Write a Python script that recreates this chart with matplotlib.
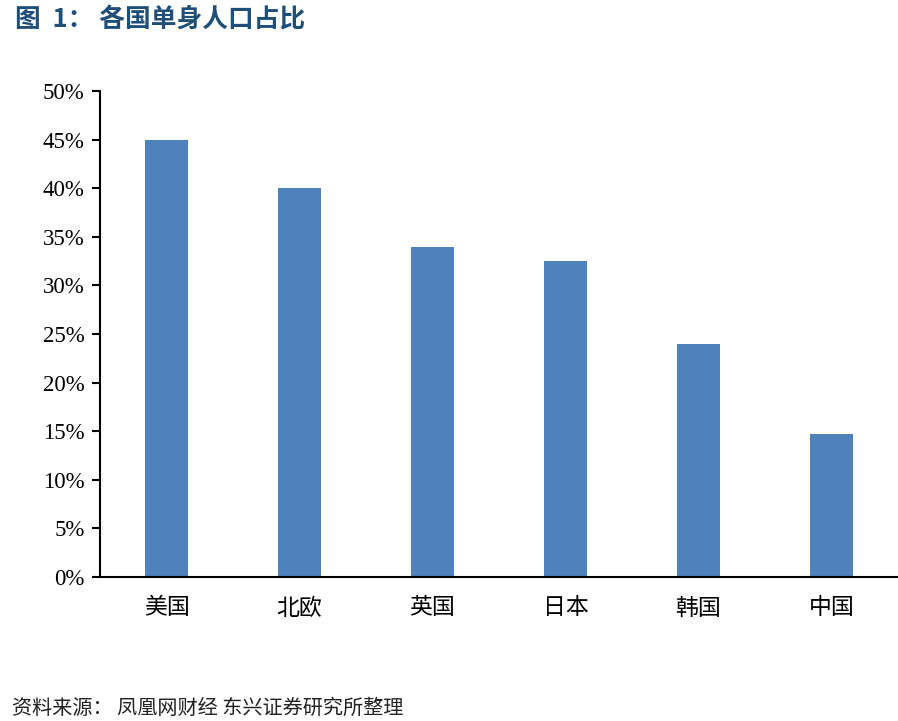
import matplotlib
matplotlib.use("Agg")
import matplotlib.pyplot as plt
from matplotlib.ticker import FuncFormatter

categories = ["美国", "北欧", "英国", "日本", "韩国", "中国"]
values = [45.0, 40.0, 34.0, 32.5, 24.0, 14.7]
yticks = [0, 5, 10, 15, 20, 25, 30, 35, 40, 45, 50]

plt.rcParams['font.family'] = ['Noto Sans CJK SC', 'DejaVu Sans']

fig = plt.figure(figsize=(8.98, 7.21), dpi=100)
ax = fig.add_axes([100/898, (721-577)/721, 1 - 100/898, (577-91)/721])

x = list(range(len(categories)))
ax.bar(x, values, width=0.32, color="#4F81BD")
ax.set_xlim(-0.5, len(categories) - 0.5)
ax.set_ylim(0, 50)
ax.set_yticks(yticks)
ax.yaxis.set_major_formatter(FuncFormatter(lambda v, p: f"{int(v)}%"))
ax.set_xticks(x)
ax.set_xticklabels(categories, fontsize=16.5)
for lab in ax.get_yticklabels():
    lab.set_family(['Liberation Serif'])
    lab.set_fontsize(16.5)
ax.tick_params(axis='x', length=0, pad=14)
ax.tick_params(axis='y', length=6, width=1.5, direction='out', pad=5)
for s in ['top', 'right']:
    ax.spines[s].set_visible(False)
for s in ['left', 'bottom']:
    ax.spines[s].set_linewidth(1.5)
    ax.spines[s].set_color('black')

fig.text(15/898, 1 - 20/721, "图  1： 各国单身人口占比", fontsize=18.5, fontweight='bold',
         color="#1F4E79", va='center', ha='left')
fig.text(12/898, 1 - 708/721, "资料来源： 凤凰网财经 东兴证券研究所整理", fontsize=14.5,
         color="#222222", va='center', ha='left', style='italic')

fig.savefig("out.png", dpi=100)
